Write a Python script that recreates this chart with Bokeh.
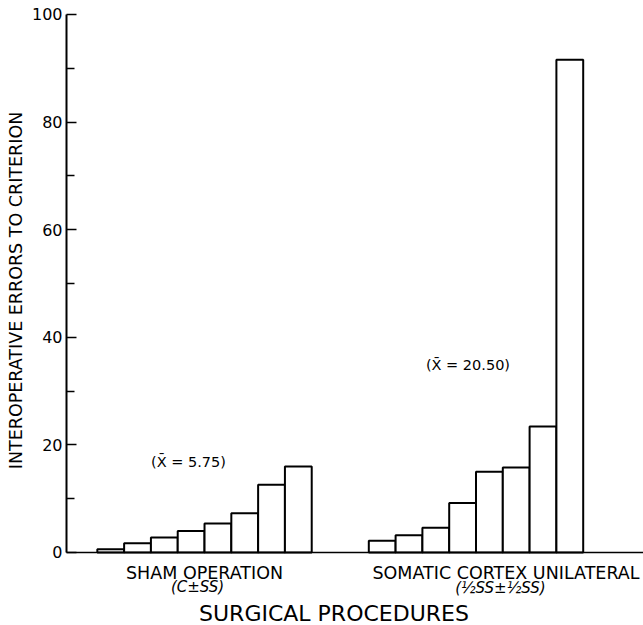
import numpy as np
from bokeh.plotting import figure
from bokeh.models import Label, FixedTicker, Range1d, ColumnDataSource
from bokeh.embed import file_html
from bokeh.resources import INLINE

# ---- data ----
group_names = ["SHAM OPERATION", "SOMATIC CORTEX UNILATERAL"]
group_codes = ["(C\u00b1SS)", "(\u00bdSS\u00b1\u00bdSS)"]
group_means = ["(X\u0304 = 5.75)", "(X\u0304 = 20.50)"]
sham_errors = [0.6, 1.7, 2.8, 4.0, 5.4, 7.3, 12.6, 16.0]
somatic_errors = [2.2, 3.2, 4.6, 9.2, 15.0, 15.8, 23.4, 91.6]
y_ticks = [0, 20, 40, 60, 80, 100]
y_minor = [10, 30, 50, 70, 90]
x_title = "SURGICAL PROCEDURES"
y_title = "INTEROPERATIVE ERRORS TO CRITERION"

FONT = "DejaVu Sans"
G1_START = 1.15
G2_START = 11.28
X_END = 21.53

p = figure(width=643, height=625, output_backend="svg", toolbar_location=None,
           x_range=Range1d(-2.463, X_END), y_range=Range1d(-13.57, 102.6),
           min_border=0)
p.outline_line_color = None
p.xgrid.visible = False
p.ygrid.visible = False
p.background_fill_color = "white"
p.border_fill_color = "white"

def bars(values, start):
    idx = np.arange(len(values))
    src = ColumnDataSource(dict(left=start + idx, right=start + idx + 1,
                                top=values, bottom=[0] * len(values)))
    p.quad(left="left", right="right", top="top", bottom="bottom", source=src,
           fill_color="white", line_color="black", line_width=2)

bars(sham_errors, G1_START)
bars(somatic_errors, G2_START)

# y axis, pinned at x = 0
ya = p.yaxis[0]
ya.fixed_location = 0
ya.bounds = (0, 100)
ya.ticker = FixedTicker(ticks=y_ticks, minor_ticks=y_minor)
ya.major_tick_in = 10
ya.major_tick_out = 0
ya.minor_tick_in = 8
ya.minor_tick_out = 0
ya.axis_line_width = 2
ya.major_tick_line_width = 1.5
ya.minor_tick_line_width = 1.5
ya.axis_line_color = "black"
ya.major_tick_line_color = "black"
ya.minor_tick_line_color = "black"
ya.major_label_standoff = 4
ya.major_label_text_font = FONT
ya.major_label_text_font_size = "16px"
ya.major_label_text_color = "black"

# x axis: baseline only, pinned at y = 0
xa = p.xaxis[0]
xa.fixed_location = 0
xa.bounds = (0, X_END)
xa.ticker = FixedTicker(ticks=[])
xa.major_tick_line_color = None
xa.minor_tick_line_color = None
xa.major_label_text_font_size = "0px"
xa.axis_line_width = 1.5
xa.axis_line_color = "black"

def add_label(text, x, y, size, style="normal", align="center",
              baseline="middle", angle=0):
    p.add_layout(Label(x=x, y=y, text=text, angle=angle,
                       text_font=FONT, text_font_size=size, text_font_style=style,
                       text_align=align, text_baseline=baseline,
                       text_color="black"))

# group labels under the baseline
add_label(group_names[0], 5.15, -3.85, "17.5px", baseline="alphabetic")
add_label(group_codes[0], 4.89, -6.5, "15px", style="italic", baseline="alphabetic")
add_label(group_names[1], 16.4, -3.85, "17.5px", baseline="alphabetic")
add_label(group_codes[1], 16.19, -6.6, "15px", style="italic", baseline="alphabetic")
add_label(x_title, 9.98, -11.3, "22px", baseline="alphabetic")
add_label(y_title, -1.90, 48.7, "17.5px", angle=np.pi / 2)

# mean annotations
add_label(group_means[0], 4.55, 16.8, "14.5px")
add_label(group_means[1], 14.98, 34.8, "14.5px")

open("out.html", "w").write(file_html(p, INLINE))
